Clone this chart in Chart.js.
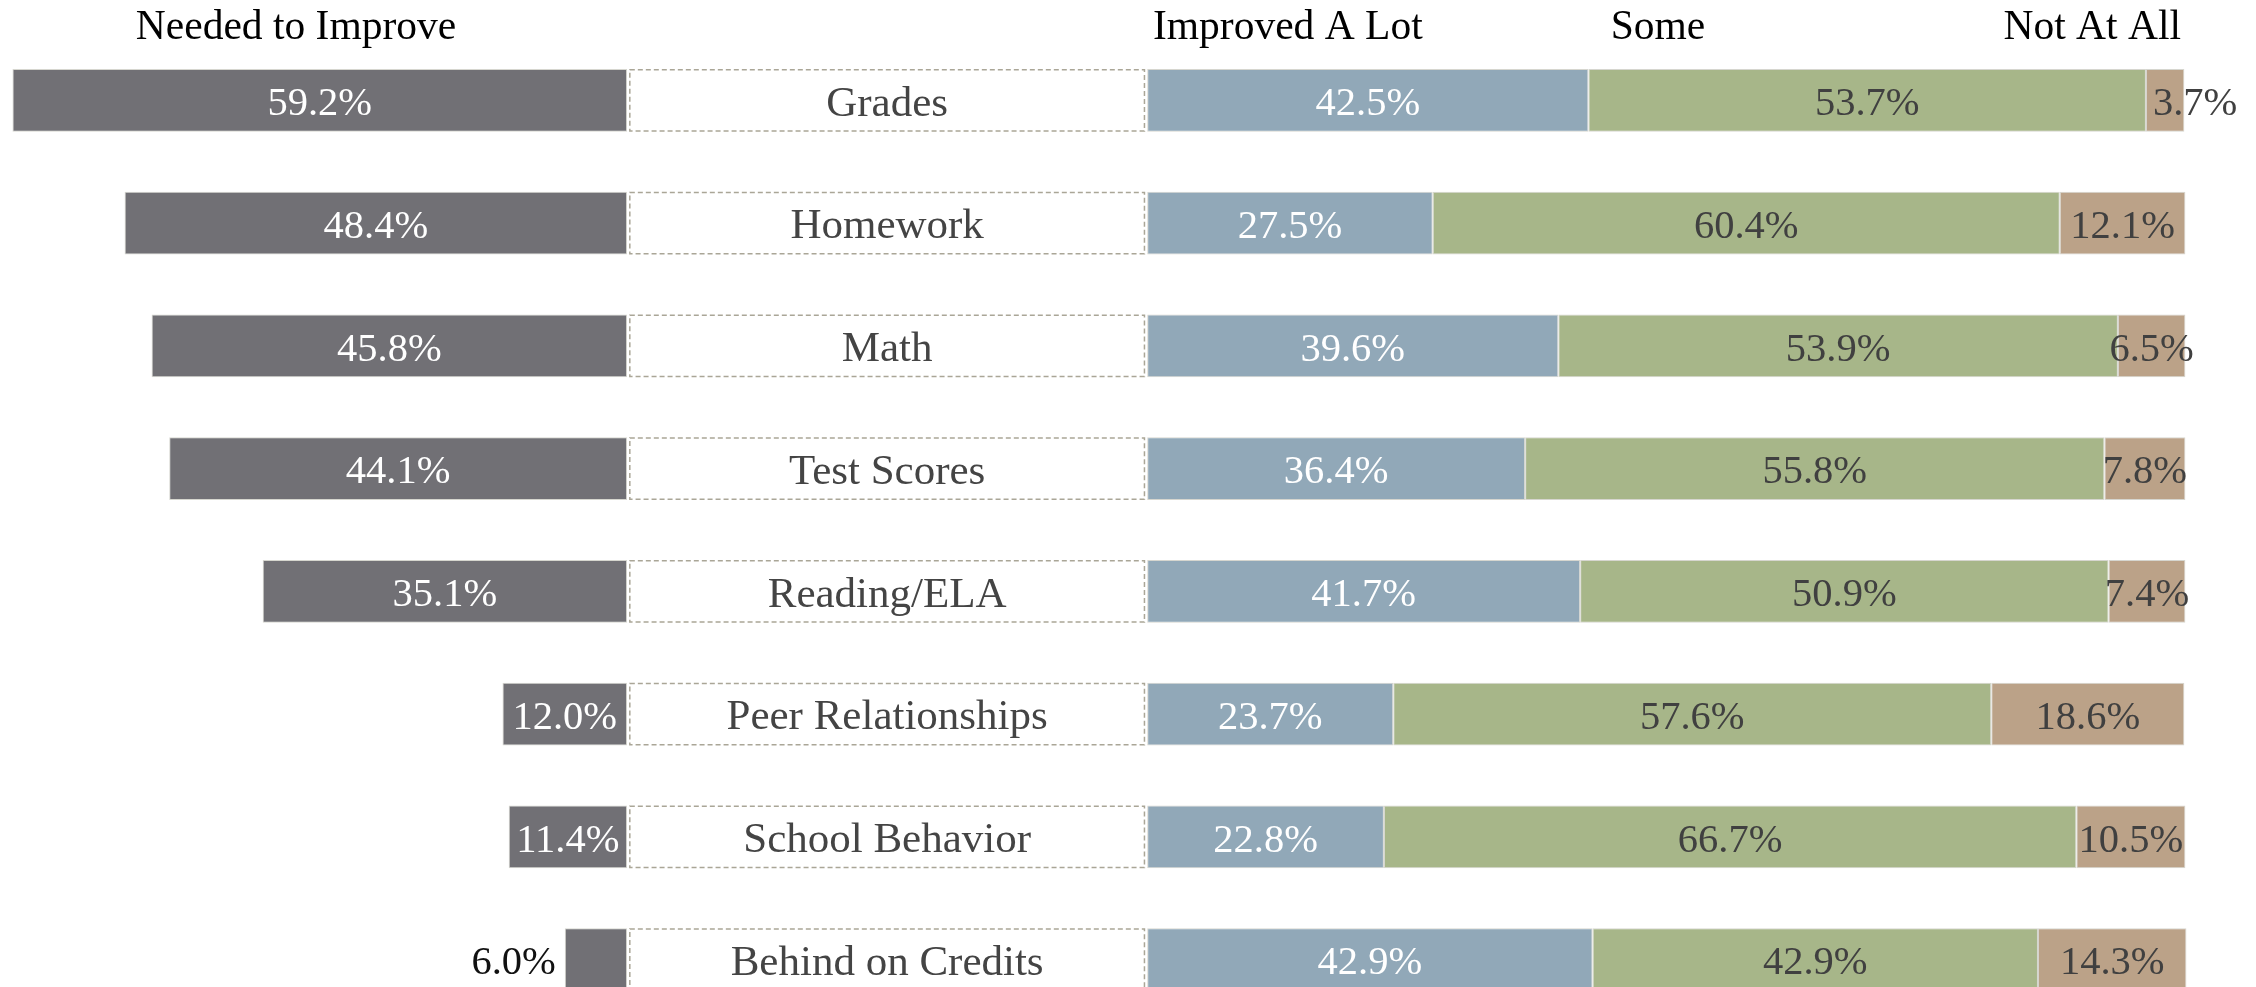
<!DOCTYPE html>
<html>
<head>
<meta charset="utf-8">
<script src="https://cdn.jsdelivr.net/npm/chart.js@4.4.0/dist/chart.umd.min.js"></script>
<style>
html,body{margin:0;padding:0;overflow:hidden;background:#fff;}
#wrap{position:absolute;left:0;top:0;width:2256px;height:1021px;}
#probe{position:absolute;left:-9999px;font-family:'Liberation Serif';}
</style>
</head>
<body>
<span id="probe">Probe 0123456789%</span>
<div id="wrap"><canvas id="c"></canvas></div>
<script>
const categories = ["Grades","Homework","Math","Test Scores","Reading/ELA","Peer Relationships","School Behavior","Behind on Credits"];
const neededToImprove = [59.2,48.4,45.8,44.1,35.1,12.0,11.4,6.0];
const improvedALot = [42.5,27.5,39.6,36.4,41.7,23.7,22.8,42.9];
const improvedSome = [53.7,60.4,53.9,55.8,50.9,57.6,66.7,42.9];
const notAtAll = [3.7,12.1,6.5,7.8,7.4,18.6,10.5,14.3];
const headerLabels = ["Needed to Improve","Improved A Lot","Some","Not At All"];

const GAP = 50.1; // width of the centre label column, in axis units
const FONT = '"Liberation Serif", "DejaVu Serif", serif';

const leftBars = neededToImprove.map(v => [-v, 0]);
const seg = (arrs, k) => arrs[0].map((_, i) => {
  let s = GAP;
  for (let j = 0; j < k; j++) s += arrs[j][i];
  return [s, s + arrs[k][i]];
});
const rightSeries = [improvedALot, improvedSome, notAtAll];

const colors = {
  needed: '#717075', alot: '#91a8b8', some: '#a7b689', not: '#bba288'
};

const labelPlugin = {
  id: 'labels',
  beforeDatasetsDraw(chart) {
    const ctx = chart.ctx;
    const xs = chart.scales.x;
    const meta = chart.getDatasetMeta(0);
    const x0 = xs.getPixelForValue(0) + 2;
    const x1 = xs.getPixelForValue(GAP) - 2;
    ctx.save();
    meta.data.forEach((el, i) => {
      const h = el.height;
      const y = el.y;
      ctx.fillStyle = '#fff';
      ctx.fillRect(x0, y - h / 2, x1 - x0, h);
      ctx.setLineDash([5, 3]);
      ctx.lineWidth = 1.5;
      ctx.strokeStyle = '#aaa697';
      ctx.strokeRect(x0 + 0.75, y - h / 2 + 0.75, x1 - x0 - 1.5, h - 1.5);
      ctx.setLineDash([]);
      ctx.fillStyle = '#444';
      ctx.font = '43px ' + FONT;
      ctx.textAlign = 'center';
      ctx.textBaseline = 'middle';
      ctx.fillText(categories[i], (x0 + x1) / 2, y + 4);
    });
    ctx.fillStyle = '#000';
    ctx.font = '41.5px ' + FONT;
    ctx.textBaseline = 'middle';
    const hy = 28;
    ctx.textAlign = 'center';
    ctx.fillText(headerLabels[0], 296, hy);
    ctx.textAlign = 'left';
    ctx.fillText(headerLabels[1], 1153, hy);
    ctx.textAlign = 'center';
    ctx.fillText(headerLabels[2], 1658, hy);
    ctx.textAlign = 'right';
    ctx.fillText(headerLabels[3], 2181, hy);
    ctx.restore();
  },
  afterDatasetsDraw(chart) {
    const ctx = chart.ctx;
    ctx.save();
    ctx.font = '40.5px ' + FONT;
    ctx.textBaseline = 'middle';
    chart.data.datasets.forEach((ds, di) => {
      const meta = chart.getDatasetMeta(di);
      meta.data.forEach((el, i) => {
        const a = Math.min(el.x, el.base), b = Math.max(el.x, el.base);
        const w = b - a;
        const v = ds.rawValues[i];
        const txt = v.toFixed(1) + '%';
        const tw = ctx.measureText(txt).width;
        const y = el.y + 4;
        if (di === 0 && tw > w) {
          ctx.textAlign = 'right';
          ctx.fillStyle = '#111';
          ctx.fillText(txt, a - 9, y);
        } else if (di > 0 && tw > 1.5 * w) {
          ctx.textAlign = 'left';
          ctx.fillStyle = ds.textColor;
          ctx.fillText(txt, a + 7, y);
        } else {
          ctx.textAlign = 'center';
          ctx.fillStyle = ds.textColor;
          ctx.fillText(txt, (a + b) / 2, y);
        }
      });
    });
    ctx.restore();
  }
};

function build() {
  new Chart(document.getElementById('c'), {
    type: 'bar',
    data: {
      labels: categories,
      datasets: [
        {label: headerLabels[0], data: leftBars, rawValues: neededToImprove, backgroundColor: colors.needed, textColor: '#ffffff'},
        {label: headerLabels[1], data: seg(rightSeries, 0), rawValues: improvedALot, backgroundColor: colors.alot, textColor: '#ffffff'},
        {label: headerLabels[2], data: seg(rightSeries, 1), rawValues: improvedSome, backgroundColor: colors.some, textColor: '#404040'},
        {label: headerLabels[3], data: seg(rightSeries, 2), rawValues: notAtAll, backgroundColor: colors.not, textColor: '#404040'}
      ]
    },
    options: {
      indexAxis: 'y',
      responsive: true,
      maintainAspectRatio: false,
      animation: false,
      layout: {padding: {top: 39, bottom: 0, left: 0, right: 0}},
      datasets: {bar: {grouped: false, categoryPercentage: 1, barPercentage: 0.513, borderWidth: 1, borderColor: '#d6d6cf', borderSkipped: false}},
      scales: {
        x: {type: 'linear', min: -60.4, max: 156.9, display: false},
        y: {type: 'category', display: false, offset: true}
      },
      plugins: {legend: {display: false}, tooltip: {enabled: false}}
    },
    plugins: [labelPlugin]
  });
}
if (document.fonts && document.fonts.load) {
  Promise.all([
    document.fonts.load('40px "Liberation Serif"'),
    document.fonts.load('40px "DejaVu Serif"')
  ]).then(build, build);
} else {
  build();
}
</script>
</body>
</html>
